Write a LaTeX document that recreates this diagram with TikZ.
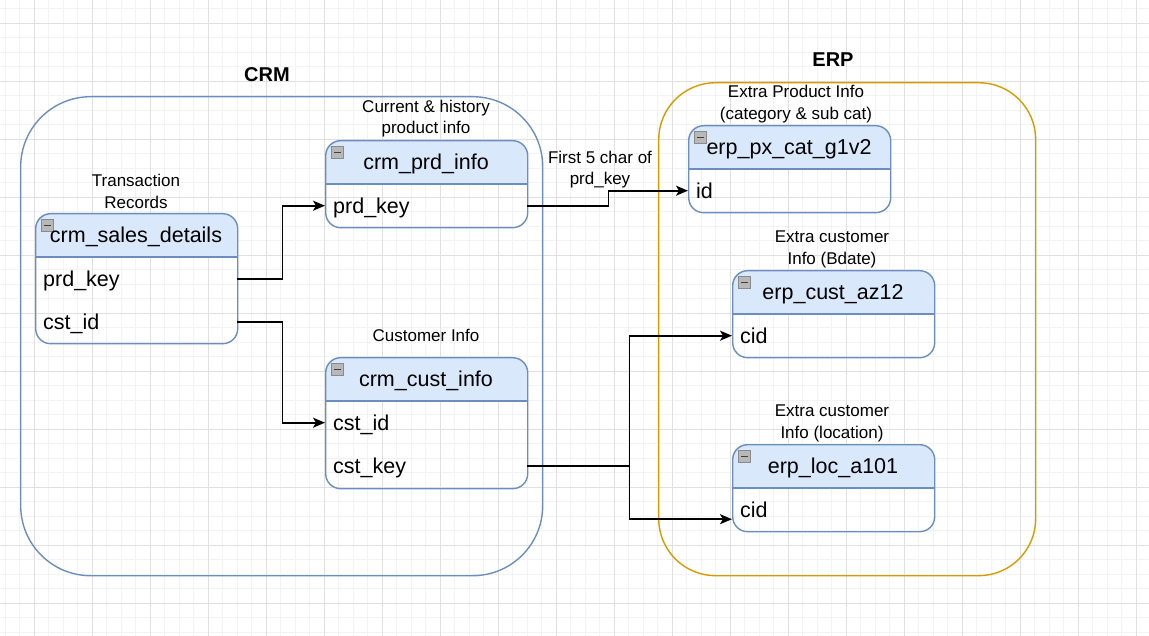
\documentclass[tikz,border=0pt]{standalone}
\usepackage{fontspec}
\setmainfont{Liberation Sans}
\usetikzlibrary{arrows.meta}
\definecolor{tblue}{HTML}{6C8EBF}
\definecolor{tfill}{HTML}{DAE8FC}
\definecolor{torange}{HTML}{D79B00}
\definecolor{gmajor}{HTML}{E0E0E0}
\definecolor{gminor}{HTML}{F3F3F3}
\definecolor{iconfill}{HTML}{B8B8B8}
\definecolor{iconline}{HTML}{8A8A8A}
\tikzset{
  tframe/.style={draw=tblue, line width=1.4pt, rounded corners=15pt, inner sep=0pt},
  trow/.style={inner sep=0pt, minimum height=43pt},
  rowtext/.style={inner sep=0pt, font=\fontsize{21.5}{24}\selectfont, text height=17.5pt, text depth=2.5pt},
  ttitle/.style={inner sep=0pt, font=\fontsize{21.5}{24}\selectfont, text height=17.5pt, text depth=2.5pt},
  note/.style={inner sep=0pt, align=center, font=\fontsize{17}{21.5}\selectfont},
  grouptitle/.style={inner sep=0pt, font=\bfseries\fontsize{20}{24}\selectfont},
  container/.style={line width=1.4pt, inner sep=0pt, anchor=north west},
  minusicon/.style={draw=iconline, fill=iconfill, minimum size=11.5pt, inner sep=0pt, line width=0.8pt,
    path picture={\draw[black!75, line width=1.1pt] ([xshift=2.5pt]path picture bounding box.west) -- ([xshift=-2.5pt]path picture bounding box.east);}},
  conn/.style={draw=black, line width=1.7pt, -{Stealth[length=12pt, width=10pt, inset=3pt]}},
  link/.style={draw=black, line width=1.7pt}
}
% #1 name, #2 x, #3 y, #4 width, #5 height, #6 title
\newcommand{\erdtable}[6]{%
  \begin{scope}
    \clip (#2,#3) rectangle ++(#4,44);
    \fill[tfill, rounded corners=15pt] (#2,#3) rectangle ++(#4,#5);
  \end{scope}
  \node[tframe, minimum width=#4pt, minimum height=#5pt, anchor=north west] (#1) at (#2,#3) {};
  \draw[tblue, line width=1.4pt] (#2,#3+44) -- ++(#4,0);
  \node[minusicon] (#1icon) at (#2+12.5,#3+12.5) {};
  \node[ttitle] (#1title) at (#2+#4/2,#3+22) {#6};
}
% #1 name, #2 x, #3 y, #4 width, #5 text
\newcommand{\erdrow}[5]{%
  \node[trow, minimum width=#4pt, anchor=north west] (#1) at (#2,#3) {};
  \node[rowtext, anchor=west] (#1txt) at ([xshift=8pt]#1.west) {#5};
}
\begin{document}
\begin{tikzpicture}[x=1pt, y=-1pt]
\useasboundingbox (0,0) rectangle (1149,636);
\fill[white] (0,0) rectangle (1149,636);
% grid
\foreach \x in {5.3,19.8,...,1149} \draw[gminor, line width=1pt] (\x,0) -- (\x,636);
\foreach \y in {8.8,23.3,...,636} \draw[gminor, line width=1pt] (0,\y) -- (1149,\y);
\foreach \x in {34.3,92.3,...,1149} \draw[gmajor, line width=1pt] (\x,0) -- (\x,636);
\foreach \y in {23.3,81.3,...,636} \draw[gmajor, line width=1pt] (0,\y) -- (1149,\y);

% containers
\node[container, draw=tblue, rounded corners=70pt, minimum width=522pt, minimum height=479pt] (crmbox) at (20,96) {};
\node[container, draw=torange, rounded corners=57pt, minimum width=377pt, minimum height=493pt] (erpbox) at (658,82) {};
\node[grouptitle] (crm) at (267,75) {CRM};
\node[grouptitle] (erp) at (833,60) {ERP};

% tables
\erdtable{sd}{35}{213}{202}{130}{crm\_sales\_details}
\erdrow{sdprd}{35}{257}{202}{prd\_key}
\erdrow{sdcst}{35}{300}{202}{cst\_id}

\erdtable{pi}{325}{140}{202}{87}{crm\_prd\_info}
\erdrow{pikey}{325}{184}{202}{prd\_key}

\erdtable{ci}{325}{357}{202}{131}{crm\_cust\_info}
\erdrow{cicst}{325}{401}{202}{cst\_id}
\erdrow{cikey}{325}{444}{202}{cst\_key}

\erdtable{px}{688}{125}{202}{87}{erp\_px\_cat\_g1v2}
\erdrow{pxid}{688}{169}{202}{id}

\erdtable{az}{732}{270}{202}{87}{erp\_cust\_az12}
\erdrow{azcid}{732}{314}{202}{cid}

\erdtable{lc}{732}{444}{202}{87}{erp\_loc\_a101}
\erdrow{lccid}{732}{488}{202}{cid}

% notes
\node[note] (lblsd) at (136,191.5) {Transaction\\Records};
\node[note] (lblpi) at (426,118.5) {Current \& history\\product info};
\node[note] (lblci) at (426,335) {Customer Info};
\node[note] (lblpx) at (796,104) {Extra Product Info\\(category \& sub cat)};
\node[note] (lblaz) at (832,249.5) {Extra customer\\Info (Bdate)};
\node[note] (lbllc) at (832,423.5) {Extra customer\\Info (location)};
\node[note] (lbledge) at (600,169.5) {First 5 char of\\prd\_key};

% connectors
\draw[conn] (sdprd.east) -- ++(45,0) |- (pikey.west);
\draw[conn] (sdcst.east) -- ++(45,0) |- (cicst.west);
\draw[conn] (pikey.east) -- ++(81,0) |- (pxid.west);
\coordinate (split) at ([xshift=102pt]cikey.east);
\draw[link] (cikey.east) -- (split);
\draw[conn] (split) |- (azcid.west);
\draw[conn] (split) |- ([yshift=-9.5pt]lccid.west);
\end{tikzpicture}
\end{document}
